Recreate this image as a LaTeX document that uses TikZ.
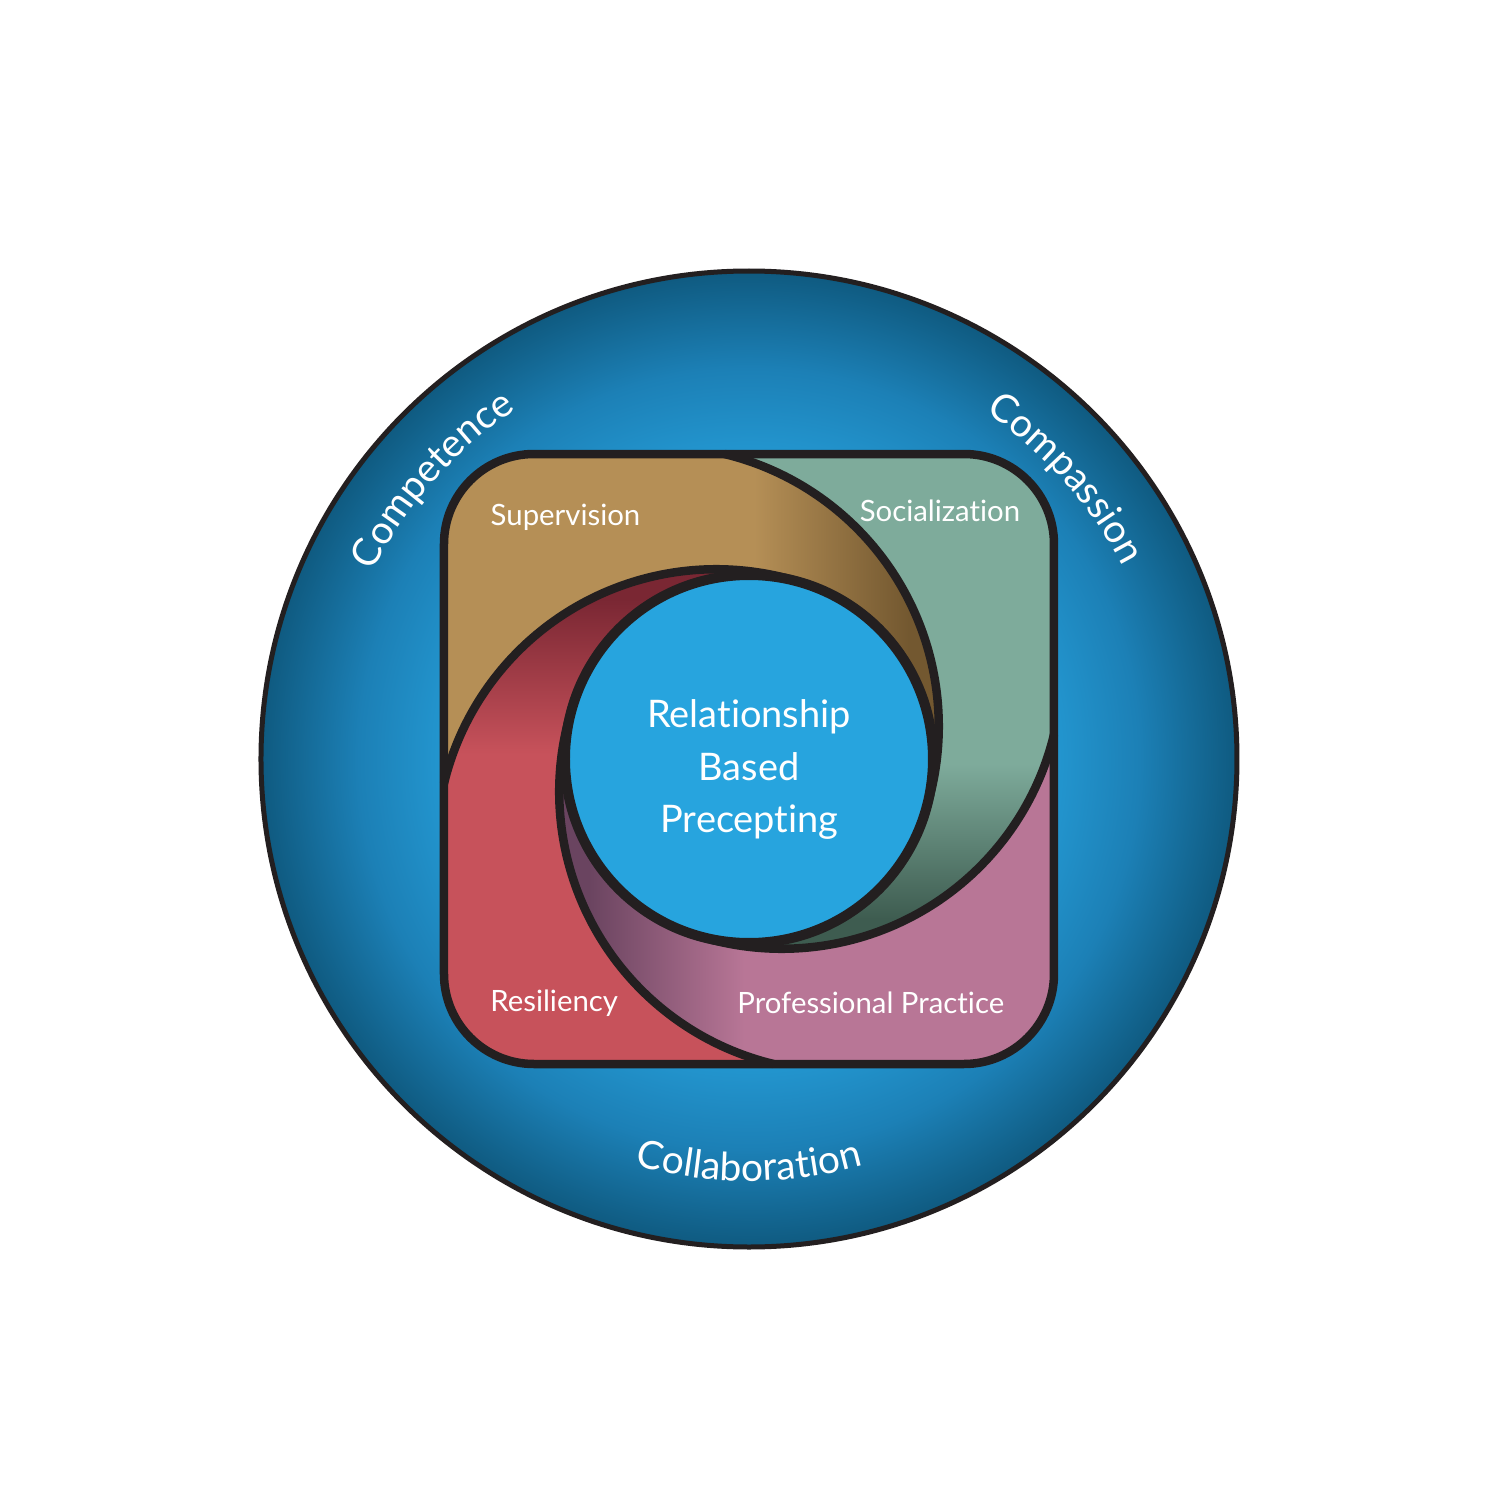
\documentclass[tikz,border=0pt]{standalone}
\usepackage{fontspec}
\setmainfont{Lato}[Ligatures={NoCommon,NoContextual}]
\usetikzlibrary{calc,decorations.text}
\definecolor{strokec}{HTML}{231F20}
\definecolor{ringbright}{HTML}{2499D3}
\definecolor{ringmid}{HTML}{1C80B6}
\definecolor{ringdark}{HTML}{0F5A80}
\definecolor{innerc}{HTML}{27A4DE}
\definecolor{tanc}{HTML}{B58F56}
\definecolor{tandk}{HTML}{735830}
\definecolor{greenc}{HTML}{7EAB9B}
\definecolor{greendk}{HTML}{3E5C50}
\definecolor{pinkc}{HTML}{B87696}
\definecolor{pinkdk}{HTML}{6A4460}
\definecolor{redc}{HTML}{C7525B}
\definecolor{reddk}{HTML}{7A2733}
\pgfdeclareradialshading{ringshade}{\pgfpoint{0bp}{0bp}}{color(0bp)=(ringbright); color(15bp)=(ringbright); color(20bp)=(ringmid); color(25bp)=(ringdark); color(50bp)=(ringdark)}
\newcommand\ringfont{\fontsize{11.1}{13}\selectfont}
\tikzset{
  edge/.style={draw=strokec, line width=0.085cm},
  lbl/.style={text=white, font=\fontsize{8.35}{10}\selectfont, inner sep=0pt, anchor=base},
  core/.style={text=white, font=\fontsize{10.8}{13}\selectfont, inner sep=0pt, anchor=base},
  ringtext/.style={decorate, decoration={text along path, text align=center, text color=white, text={|\ringfont|#1}}}
}
\begin{document}
\begin{tikzpicture}
\useasboundingbox (-7.49,-7.41) rectangle (7.51,7.59);
\fill[white] (-7.49,-7.41) rectangle (7.51,7.59);
% outer ring
\shade[shading=ringshade] (0,0) circle (4.88cm);
\draw[strokec, line width=0.05cm] (0,0) circle (4.88cm);
% geometry
\coordinate (O) at (0,0);
\coordinate (cA) at (160:0.96);
\coordinate (cB) at (70:0.96);
\coordinate (cC) at (-20:0.96);
\coordinate (cD) at (250:0.96);
\coordinate (PA) at ($(cA)+(76.42:2.8)$);
\coordinate (PB) at ($(cB)+(-13.58:2.8)$);
\coordinate (PC) at ($(cC)+(-103.58:2.8)$);
\coordinate (PD) at ($(cD)+(166.42:2.8)$);
\begin{scope}
\clip[rounded corners=0.9cm] (-3.05,-3.05) rectangle (3.05,3.05);
% Supervision
\begin{scope}
\clip (PA) arc[start angle=76.42,end angle=-20,radius=2.8cm] arc[start angle=-20,end angle=70,radius=1.84cm] arc[start angle=70,end angle=166.42,radius=2.8cm] -- (-5,-0.2447) -- (-5,5) -- (-0.2447,5) -- cycle;
\fill[tanc] (-5,-5) rectangle (0.06,5);
\shade[left color=tanc,right color=tandk] (0.05,-5) rectangle (1.6,5);
\fill[tandk] (1.59,-5) rectangle (5,5);
\end{scope}
% Socialization
\begin{scope}
\clip (PB) arc[start angle=-13.58,end angle=-110,radius=2.8cm] arc[start angle=-110,end angle=-20,radius=1.84cm] arc[start angle=-20,end angle=76.42,radius=2.8cm] -- (-0.2447,5) -- (5,5) -- (5,0.2447) -- cycle;
\fill[greenc] (-5,-0.06) rectangle (5,5);
\shade[top color=greenc,bottom color=greendk] (-5,-1.6) rectangle (5,-0.05);
\fill[greendk] (-5,-5) rectangle (5,-1.59);
\end{scope}
% Professional Practice
\begin{scope}
\clip (PC) arc[start angle=-103.58,end angle=-200,radius=2.8cm] arc[start angle=160,end angle=250,radius=1.84cm] arc[start angle=-110,end angle=-13.58,radius=2.8cm] -- (5,0.2447) -- (5,-5) -- (0.2447,-5) -- cycle;
\fill[pinkc] (-0.06,-5) rectangle (5,5);
\shade[left color=pinkdk,right color=pinkc] (-1.6,-5) rectangle (-0.05,5);
\fill[pinkdk] (-5,-5) rectangle (-1.59,5);
\end{scope}
% Resiliency
\begin{scope}
\clip (PD) arc[start angle=166.42,end angle=70,radius=2.8cm] arc[start angle=70,end angle=160,radius=1.84cm] arc[start angle=160,end angle=256.42,radius=2.8cm] -- (0.2447,-5) -- (-5,-5) -- (-5,-0.2447) -- cycle;
\fill[redc] (-5,-5) rectangle (5,0.06);
\shade[bottom color=redc,top color=reddk] (-5,0.05) rectangle (5,1.6);
\fill[reddk] (-5,1.59) rectangle (5,5);
\end{scope}
\end{scope}
% dividing arcs
\draw[edge] (PA) arc[start angle=76.42,end angle=-20,radius=2.8cm];
\draw[edge] (PB) arc[start angle=-13.58,end angle=-110,radius=2.8cm];
\draw[edge] (PC) arc[start angle=-103.58,end angle=-200,radius=2.8cm];
\draw[edge] (PD) arc[start angle=166.42,end angle=70,radius=2.8cm];
\draw[edge, rounded corners=0.9cm] (-3.05,-3.05) rectangle (3.05,3.05);
% core circle
\fill[innerc] (0,0) circle (1.84cm);
\draw[strokec, line width=0.1cm] (0,0) circle (1.84cm);
% core text
\node[core] (l1) at (0,0.32) {Relationship};
\node[core] (l2) at (0,-0.21) {Based};
\node[core] (l3) at (0.005,-0.73) {Precepting};
% quadrant labels
\node[lbl] (sup) at (-1.835,2.34) {Supervision};
\node[lbl] (soc) at (1.91,2.373) {Socialization};
\node[lbl] (res) at (-1.948,-2.527) {Resiliency};
\node[lbl] (pro) at (1.218,-2.543) {Professional Practice};
% ring text
\path[ringtext=Competence] (178.6:4.2) arc[start angle=178.6,end angle=98.6,radius=4.2cm];
\path[ringtext=Compassion] (81.5:4.2) arc[start angle=81.5,end angle=1.5,radius=4.2cm];
\path[ringtext=Collaboration] (-130:4.22) arc[start angle=-130,end angle=-50,radius=4.22cm];
\end{tikzpicture}
\end{document}
